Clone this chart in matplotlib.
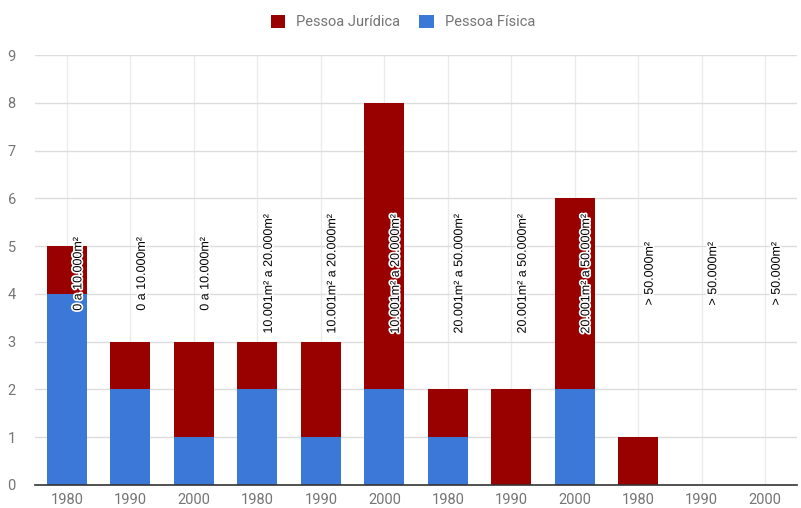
import matplotlib
matplotlib.use("Agg")
import matplotlib.pyplot as plt
import matplotlib.patheffects as pe
import numpy as np

plt.rcParams['font.family'] = ['Roboto', 'DejaVu Sans']

years = ["1980", "1990", "2000"] * 4
faixas = (["0 a 10.000m²"] * 3 + ["10.001m² a 20.000m²"] * 3 +
          ["20.001m² a 50.000m²"] * 3 + ["> 50.000m²"] * 3)
pessoa_fisica = [4, 2, 1, 2, 1, 2, 1, 0, 2, 0, 0, 0]
pessoa_juridica = [1, 1, 2, 1, 2, 6, 1, 2, 4, 1, 0, 0]

col_pj = "#990000"
col_pf = "#3c78d8"
grey = "#757575"

fig = plt.figure(figsize=(8.01, 5.08), dpi=100)
ax = fig.add_axes([0.044, 0.0453, 0.951, 0.8464])

x = np.arange(len(years))
w = 0.63
ax.bar(x, pessoa_fisica, width=w, color=col_pf, zorder=3, label="Pessoa Física")
ax.bar(x, pessoa_juridica, width=w, bottom=pessoa_fisica, color=col_pj,
       zorder=3, label="Pessoa Jurídica")

for xi, txt in zip(x, faixas):
    ax.text(xi + 0.18, 4.42, txt, rotation=90, ha="center", va="center",
            fontsize=9, color="black", zorder=5,
            family=["Liberation Sans", "DejaVu Sans"],
            path_effects=[pe.withStroke(linewidth=2.5, foreground="white")])

ax.set_xlim(-0.5, len(years) - 0.5)
ax.set_ylim(0, 9)
ax.set_yticks(range(10))
ax.set_xticks(x)
ax.set_xticklabels(years)
ax.tick_params(axis="both", length=0, colors=grey, labelsize=10.5)
ax.tick_params(axis="y", pad=14)
ax.tick_params(axis="x", pad=6)
for lbl in ax.get_yticklabels():
    lbl.set_horizontalalignment("right")

ax.grid(axis="y", color="#dddddd", linewidth=1, zorder=0)
ax.grid(axis="x", color="#ebebeb", linewidth=1, zorder=0)
for s in ["top", "right", "left"]:
    ax.spines[s].set_visible(False)
ax.spines["bottom"].set_color("#333333")
ax.spines["bottom"].set_linewidth(1.2)
ax.spines["bottom"].set_zorder(4)

handles, labels = ax.get_legend_handles_labels()
fig.legend(handles[::-1], labels[::-1], loc="upper center",
           bbox_to_anchor=(0.503, 0.997), ncol=2, frameon=False,
           fontsize=10.5, labelcolor=grey, handlelength=1.0, handleheight=1.0,
           columnspacing=1.3, handletextpad=0.75, borderaxespad=0.5)

fig.savefig("out.png", dpi=100)
